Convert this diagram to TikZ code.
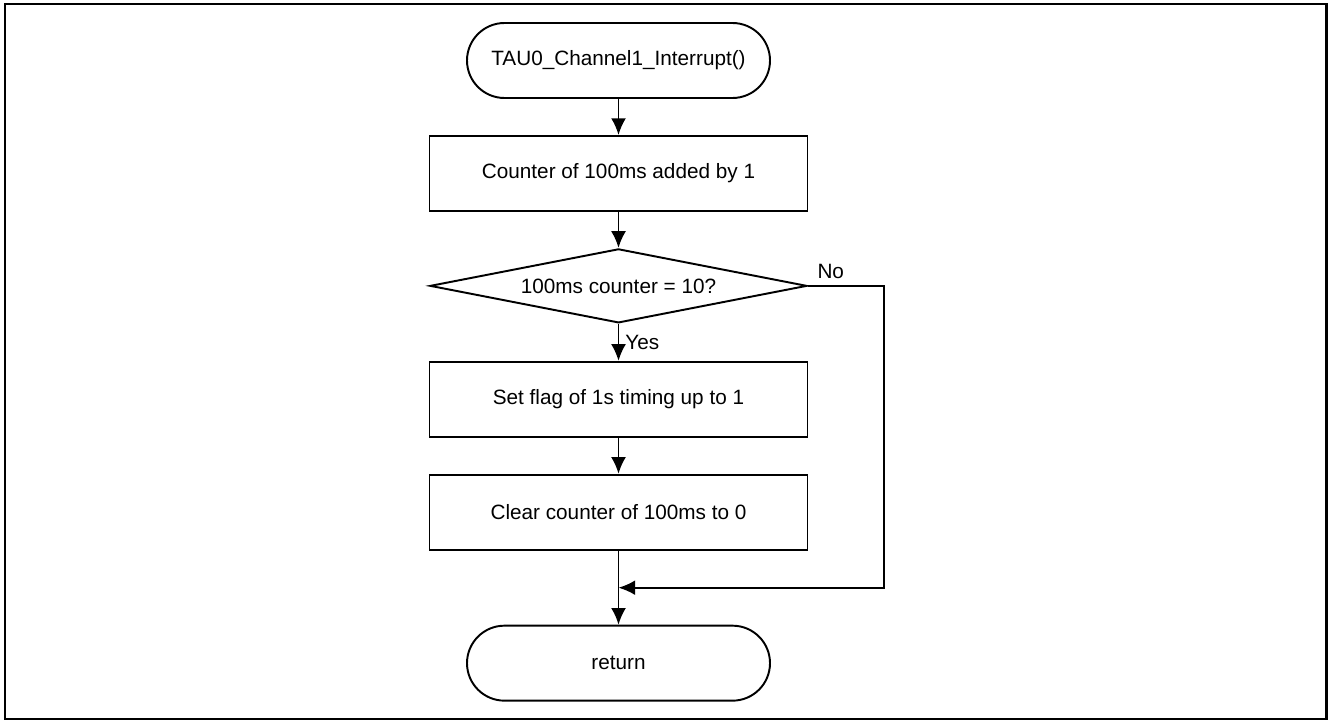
\documentclass[tikz,border=0pt]{standalone}
\usepackage{fontspec}
\setmainfont{Liberation Sans}
\usetikzlibrary{shapes}
\usetikzlibrary{arrows.meta}
\usetikzlibrary{positioning}
\usetikzlibrary{calc}

\begin{document}
\begin{tikzpicture}[auto, font=\fontsize{11.8}{14}\selectfont, node distance=0.72cm]
\tikzstyle{decision} = [diamond, draw=black, line width=1.1pt, aspect=5.1, minimum width=7.54cm, minimum height=1.48cm, inner sep=0pt]
\tikzstyle{block} = [rectangle, draw=black, line width=1.1pt, minimum width=7.56cm, minimum height=1.5cm]
\tikzstyle{terminal} = [rectangle, draw=black, line width=1.1pt, rounded corners=0.75cm, minimum width=6.06cm, minimum height=1.5cm]
\tikzstyle{line} = [draw, line width=1.1pt, -{Latex[length=9.5pt,width=8.5pt]}]
\useasboundingbox (0,0) rectangle (26.56,-14.44);
% frame
\draw[line width=1.7pt] (0.1,-0.08) rectangle (26.52,-14.38);
% nodes
\node [terminal] (start) at (12.37,-1.21) {TAU0\_Channel1\_Interrupt()};
\node [block, below=of start] (add) {Counter of 100ms added by 1};
\node [decision, below=of add] (decide) {100ms counter = 10?};
\node [block, below=0.74cm of decide] (setflag) {Set flag of 1s timing up to 1};
\node [block, below=of setflag] (clear) {Clear counter of 100ms to 0};
\node [terminal, below=1.48cm of clear] (ret) {return};
\coordinate (join) at ($(clear.south)+(0,-0.74)$);
% connectors
\draw[line] (start) -- (add);
\draw[line] (add) -- (decide);
\draw[line] (decide) -- node [midway, right] {Yes} (setflag);
\draw[line] (setflag) -- (clear);
\draw[line] (clear) -- (ret);
\draw[line] (decide.east) -- node [pos=0.3, above] {No} ($(decide.east)+(1.52,0)$) |- (join);
\end{tikzpicture}
\end{document}
